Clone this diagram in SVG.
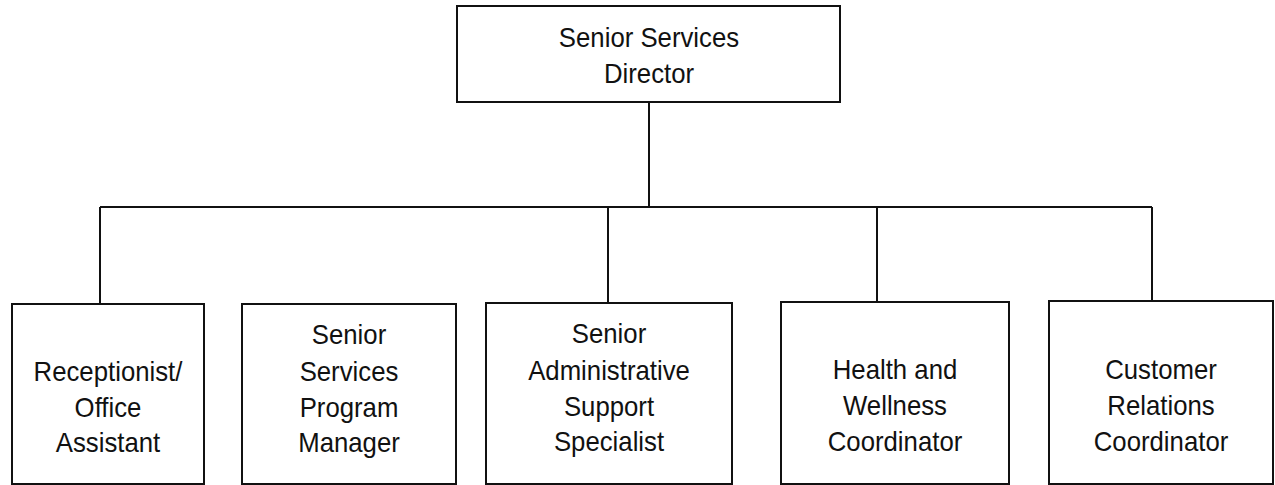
<svg xmlns="http://www.w3.org/2000/svg" width="1275" height="485" viewBox="0 0 1275 485">
  <style>
    .box { fill: #ffffff; stroke: #111111; stroke-width: 2; }
    .link { fill: none; stroke: #111111; stroke-width: 2; }
    .label { font-family: "Liberation Sans", Arial, sans-serif; font-size: 28px; fill: #111111; text-anchor: middle; }
  </style>
  <rect width="1275" height="485" fill="#ffffff"/>

  <!-- reporting lines -->
  <g id="connectors">
    <path class="link" d="M649 102 V207"/>
    <path class="link" d="M100 207 H1152"/>
    <path class="link" d="M100 207 V304"/>
    <path class="link" d="M608 207 V303"/>
    <path class="link" d="M877 207 V302"/>
    <path class="link" d="M1152 207 V301"/>
  </g>

  <g id="director">
    <rect class="box" x="457" y="6" width="383" height="96"/>
    <g transform="translate(649 0) scale(0.92 1)">
      <text class="label" x="0" y="47">Senior Services</text>
      <text class="label" x="0" y="83">Director</text>
    </g>
  </g>

  <g id="receptionist">
    <rect class="box" x="12" y="304" width="192" height="180"/>
    <g transform="translate(108 0) scale(0.92 1)">
      <text class="label" x="0" y="381">Receptionist/</text>
      <text class="label" x="0" y="417">Office</text>
      <text class="label" x="0" y="452">Assistant</text>
    </g>
  </g>

  <g id="program-manager">
    <rect class="box" x="242" y="304" width="214" height="180"/>
    <g transform="translate(349 0) scale(0.92 1)">
      <text class="label" x="0" y="344">Senior</text>
      <text class="label" x="0" y="381">Services</text>
      <text class="label" x="0" y="417">Program</text>
      <text class="label" x="0" y="452">Manager</text>
    </g>
  </g>

  <g id="admin-support">
    <rect class="box" x="486" y="303" width="246" height="181"/>
    <g transform="translate(609 0) scale(0.92 1)">
      <text class="label" x="0" y="343">Senior</text>
      <text class="label" x="0" y="380">Administrative</text>
      <text class="label" x="0" y="416">Support</text>
      <text class="label" x="0" y="451">Specialist</text>
    </g>
  </g>

  <g id="health-wellness">
    <rect class="box" x="781" y="302" width="228" height="182"/>
    <g transform="translate(895 0) scale(0.92 1)">
      <text class="label" x="0" y="379">Health and</text>
      <text class="label" x="0" y="415">Wellness</text>
      <text class="label" x="0" y="451">Coordinator</text>
    </g>
  </g>

  <g id="customer-relations">
    <rect class="box" x="1049" y="301" width="224" height="183"/>
    <g transform="translate(1161 0) scale(0.92 1)">
      <text class="label" x="0" y="379">Customer</text>
      <text class="label" x="0" y="415">Relations</text>
      <text class="label" x="0" y="451">Coordinator</text>
    </g>
  </g>
</svg>
